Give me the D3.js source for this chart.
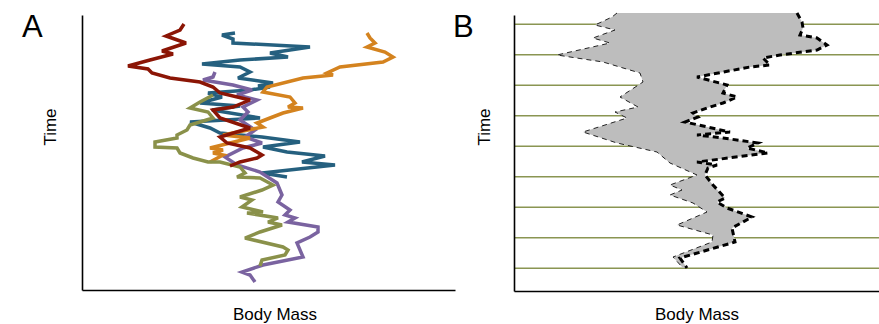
<!DOCTYPE html>
<html>
<head>
<meta charset="utf-8">
<script src="https://cdn.jsdelivr.net/npm/d3@7"></script>
<style>
  body { margin: 0; background: #fff; }
  svg { display: block; }
  text { font-family: "Liberation Sans", Arial, sans-serif; fill: #000; }
</style>
</head>
<body>
<div id="chart"></div>
<script>
// Panel A: body mass of five lineages through time, as [time, mass] pairs
const redLineage = [[266,102],[260,98],[254,84],[247,104],[239,80],[236,91],[230,68],[224,46],[221,66],[217,70],[212,88],[208,118],[203,131],[197,138],[190,168],[183,151],[180,131],[172,138],[162,168],[153,138],[147,145],[142,168],[135,180],[132,175],[128,158],[124,148]];
const blueLineage = [[257,153],[255,140],[251,151],[247,151],[243,228],[237,188],[233,206],[230,158],[226,120],[223,158],[218,168],[212,156],[207,191],[204,176],[203,188],[200,168],[197,126],[193,140],[187,118],[184,158],[180,130],[172,178],[168,108],[162,128],[157,138],[153,180],[148,218],[143,181],[138,205],[134,243],[128,220],[125,253],[117,180],[113,205]];
const orangeLineage = [[257,285],[252,288],[247,293],[243,285],[238,303],[233,311],[228,301],[223,258],[217,245],[215,251],[212,221],[203,185],[198,181],[193,208],[187,213],[183,206],[182,221],[177,201],[172,188],[167,175],[163,181],[155,141],[152,168],[142,128],[140,141],[137,131],[135,141],[128,128]];
const purpleLineage = [[218,133],[213,131],[210,121],[205,151],[200,170],[195,155],[190,175],[183,161],[178,166],[170,158],[160,173],[153,163],[147,180],[142,161],[133,143],[125,155],[118,178],[107,195],[95,200],[88,196],[80,208],[75,203],[72,213],[68,206],[63,236],[58,236],[53,228],[47,215],[33,221],[25,181],[18,160],[15,168],[8,173]];
const oliveLineage = [[195,131],[188,118],[182,108],[178,126],[172,131],[165,108],[160,105],[155,95],[152,95],[148,73],[143,73],[142,95],[137,98],[132,111],[128,126],[128,138],[123,158],[117,163],[113,155],[112,178],[105,191],[100,180],[93,158],[90,170],[83,160],[78,181],[77,165],[72,196],[68,186],[65,200],[58,178],[52,163],[43,201],[40,206],[35,203],[30,180],[24,178]];

// Panel B: envelope of body mass through time, [time, mass]
const envelopeMax = [[278,283],[269,288],[263,289],[256,286],[253,303],[246,313],[241,303],[236,266],[233,249],[226,256],[224,236],[214,183],[206,213],[198,209],[194,223],[188,209],[183,193],[178,179],[174,184],[169,171],[159,216],[156,183],[153,209],[148,244],[143,233],[138,254],[129,183],[126,203],[123,194],[116,191],[106,199],[93,211],[89,203],[83,213],[74,238],[63,218],[49,221],[33,166],[23,173]];
const envelopeMin = [[278,103],[274,98],[266,81],[261,101],[253,79],[248,96],[236,43],[229,89],[218,126],[209,129],[194,106],[184,124],[179,101],[173,113],[159,69],[148,103],[139,143],[128,156],[116,183],[106,156],[101,168],[96,156],[88,179],[79,193],[66,163],[56,199],[49,198],[34,159],[23,169]];
const bGridTimes = [22.7, 53.2, 83.7, 114.2, 144.7, 175.2, 205.7, 236.2, 266.7];

const lineages = [
  { data: blueLineage, color: '#25607f' },
  { data: purpleLineage, color: '#7a63a0' },
  { data: orangeLineage, color: '#d4831f' },
  { data: oliveLineage, color: '#8a914a' },
  { data: redLineage, color: '#8b1505' }
];

const width = 879;
const height = 324;

const svg = d3.select('#chart')
  .append('svg')
  .attr('width', width)
  .attr('height', height);

// ---- panel A ----
const ax = d3.scaleLinear().domain([0, 373]).range([82, 455]);
const ay = d3.scaleLinear().domain([0, 275]).range([290, 15]);

const lineA = d3.line()
  .x(d => ax(d[1]))
  .y(d => ay(d[0]));

svg.selectAll('.lineage')
  .data(lineages)
  .enter()
  .append('path')
  .attr('class', 'lineage')
  .attr('d', d => lineA(d.data))
  .attr('fill', 'none')
  .attr('stroke', d => d.color)
  .attr('stroke-width', 3.5)
  .attr('stroke-linejoin', 'miter')
  .attr('stroke-miterlimit', 3);

function drawAxes(xs, ys) {
  const gx = svg.append('g')
    .attr('transform', 'translate(0,' + ys.range()[0] + ')')
    .call(d3.axisBottom(xs).ticks(0).tickSizeOuter(0));
  const gy = svg.append('g')
    .attr('transform', 'translate(' + xs.range()[0] + ',0)')
    .call(d3.axisLeft(ys).ticks(0).tickSizeOuter(0));
  [gx, gy].forEach(g => g.select('.domain').attr('stroke', '#000').attr('stroke-width', 1.6));
}
drawAxes(ax, ay);

// ---- panel B ----
const bx = d3.scaleLinear().domain([0, 365]).range([514, 879]);
const by = d3.scaleLinear().domain([0, 276]).range([291, 15]);

svg.selectAll('.grid')
  .data(bGridTimes)
  .enter()
  .append('line')
  .attr('class', 'grid')
  .attr('x1', bx(0))
  .attr('x2', bx(365))
  .attr('y1', d => by(d))
  .attr('y2', d => by(d))
  .attr('stroke', '#8a9552')
  .attr('stroke-width', 1.5);

const lineB = d3.line()
  .x(d => bx(d[1]))
  .y(d => by(d[0]));

svg.append('path')
  .attr('d', lineB.curve(d3.curveLinearClosed)(envelopeMin.concat(envelopeMax.slice().reverse())))
  .attr('fill', '#bdbdbd')
  .attr('stroke', 'none');

lineB.curve(d3.curveLinear);

svg.append('path')
  .attr('d', lineB(envelopeMin))
  .attr('fill', 'none')
  .attr('stroke', '#222')
  .attr('stroke-width', 1)
  .attr('stroke-dasharray', '5,4');

svg.append('path')
  .attr('d', lineB(envelopeMax))
  .attr('fill', 'none')
  .attr('stroke', '#000')
  .attr('stroke-width', 3)
  .attr('stroke-dasharray', '6,4');

drawAxes(bx, by);

// ---- labels ----
svg.append('text').attr('x', 22).attr('y', 37).style('font-size', '31px').text('A');
svg.append('text').attr('x', 453).attr('y', 37).style('font-size', '31px').text('B');

[[50, 127], [484, 127]].forEach(p => {
  svg.append('text')
    .attr('transform', 'translate(' + (p[0] + 6) + ',' + p[1] + ') rotate(-90)')
    .attr('text-anchor', 'middle')
    .style('font-size', '17px')
    .text('Time');
});

[275, 697].forEach(x => {
  svg.append('text')
    .attr('x', x)
    .attr('y', 320)
    .attr('text-anchor', 'middle')
    .style('font-size', '17px')
    .text('Body Mass');
});
</script>
</body>
</html>
